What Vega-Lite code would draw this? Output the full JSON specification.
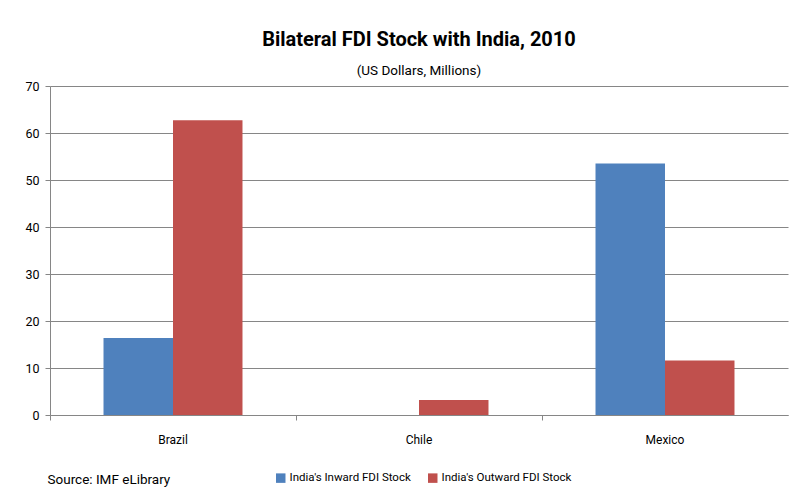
{
  "$schema": "https://vega.github.io/schema/vega-lite/v6.json",
  "width": 738,
  "height": 329,
  "autosize": {"type": "none"},
  "padding": {"left": 50, "top": 86, "right": 22, "bottom": 86},
  "background": "white",
  "title": {
    "text": "Bilateral FDI Stock with India, 2010",
    "subtitle": "(US Dollars, Millions)",
    "anchor": "middle",
    "frame": "group",
    "font": "Roboto, sans-serif",
    "fontSize": 20,
    "fontWeight": "bold",
    "color": "black",
    "subtitleFont": "Roboto, sans-serif",
    "subtitleFontSize": 13.5,
    "subtitleColor": "black",
    "subtitlePadding": 14,
    "offset": 3
  },
  "data": {
    "values": [
      {"country": "Brazil", "series": "India's Inward FDI Stock", "value": 16.4},
      {"country": "Brazil", "series": "India's Outward FDI Stock", "value": 62.7},
      {"country": "Chile", "series": "India's Inward FDI Stock", "value": 0},
      {"country": "Chile", "series": "India's Outward FDI Stock", "value": 3.2},
      {"country": "Mexico", "series": "India's Inward FDI Stock", "value": 53.5},
      {"country": "Mexico", "series": "India's Outward FDI Stock", "value": 11.6}
    ]
  },
  "mark": {"type": "bar"},
  "encoding": {
    "x": {
      "field": "country",
      "type": "nominal",
      "sort": null,
      "scale": {"paddingInner": 0, "paddingOuter": 0},
      "axis": {
        "title": "Source: IMF eLibrary",
        "titleAnchor": "start",
        "titleAlign": "left",
        "titleX": -3,
        "titleY": 64,
        "titleBaseline": "middle",
        "titleFont": "Roboto, sans-serif",
        "titleFontSize": 13.5,
        "titleFontWeight": "normal",
        "titleColor": "black",
        "bandPosition": 0,
        "labelOffset": 0,
        "labelAngle": 0,
        "labelFont": "Roboto, sans-serif",
        "labelFontSize": 12,
        "labelColor": "black",
        "labelPadding": 14,
        "domainColor": "#868686",
        "tickColor": "#868686",
        "tickSize": 5,
        "grid": false
      }
    },
    "xOffset": {
      "field": "series",
      "type": "nominal",
      "scale": {"paddingInner": 0, "paddingOuter": 0.77}
    },
    "y": {
      "field": "value",
      "type": "quantitative",
      "scale": {"domain": [0, 70]},
      "axis": {
        "title": null,
        "values": [0, 10, 20, 30, 40, 50, 60, 70],
        "labelFont": "Roboto, sans-serif",
        "labelFontSize": 12.5,
        "labelColor": "black",
        "labelPadding": 6,
        "domainColor": "#868686",
        "tickColor": "#868686",
        "tickSize": 5,
        "gridColor": "#868686",
        "gridWidth": 1
      }
    },
    "color": {
      "field": "series",
      "type": "nominal",
      "scale": {"range": ["#4F81BD", "#C0504D"]},
      "legend": {
        "title": null,
        "orient": "none",
        "direction": "horizontal",
        "legendX": 225,
        "legendY": 386,
        "symbolType": "square",
        "symbolSize": 90,
        "symbolStrokeWidth": 0,
        "symbolOpacity": 1,
        "labelFont": "Roboto, sans-serif",
        "labelFontSize": 11.5,
        "labelColor": "black",
        "labelOffset": 3,
        "columnPadding": 16
      }
    }
  },
  "config": {"view": {"stroke": null}}
}
